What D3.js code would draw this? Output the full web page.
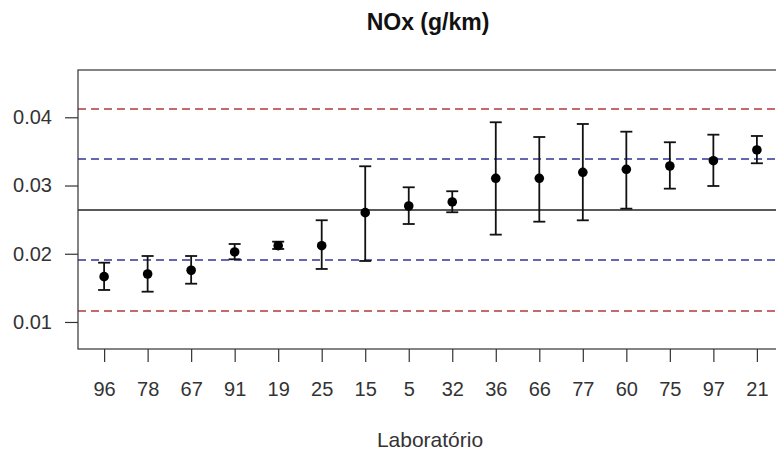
<!DOCTYPE html>
<html>
<head>
<meta charset="utf-8">
<script src="https://cdn.jsdelivr.net/npm/d3@7"></script>
<style>
  body { margin: 0; background: #fff; }
  svg { display: block; font-family: "Liberation Sans", Arial, sans-serif; }
</style>
</head>
<body>
<div id="chart"></div>
<script>
// laboratory codes, in plotted order
const labs = ["96", "78", "67", "91", "19", "25", "15", "5", "32", "36", "66", "77", "60", "75", "97", "21"];
// mean NOx (g/km) per lab
const means = [0.01664, 0.01703, 0.01758, 0.02026, 0.02118, 0.02118, 0.02602, 0.02700,
    0.02759, 0.03106, 0.03106, 0.03194, 0.03238, 0.03286, 0.03364, 0.03521];
// upper / lower error bar ends
const upper = [0.01869, 0.01967, 0.01967, 0.02143, 0.02177, 0.02491, 0.03282, 0.02974,
    0.02916, 0.03927, 0.03711, 0.03902, 0.03789, 0.03634, 0.03745, 0.03726];
const lower = [0.01469, 0.01444, 0.01561, 0.01919, 0.02070, 0.01777, 0.01894, 0.02436,
    0.02608, 0.02280, 0.02470, 0.02490, 0.02661, 0.02954, 0.02993, 0.03326];
// reference lines: assigned value, +/- limits
const refValue = 0.02642;
const innerLimits = [0.01909, 0.03389];
const outerLimits = [0.01161, 0.04122];
const yTicks = [0.01, 0.02, 0.03, 0.04];

const width = 776;
const height = 452;
const plot = { left: 78, right: 783, top: 70, bottom: 349 };

const svg = d3.select("#chart")
    .append("svg")
    .attr("width", width)
    .attr("height", height);

const x = d3.scaleLinear()
    .domain([0.4, labs.length + 0.6])
    .range([plot.left, plot.right]);

const y = d3.scaleLinear()
    .domain([0.00604, 0.04693])
    .range([plot.bottom, plot.top]);

// horizontal reference lines
function hline(v, color, dash, w) {
    svg.append("line")
        .attr("x1", plot.left).attr("x2", plot.right)
        .attr("y1", y(v)).attr("y2", y(v))
        .attr("stroke", color)
        .attr("stroke-width", w)
        .attr("stroke-dasharray", dash);
}
outerLimits.forEach(v => hline(v, "#b23a3a", "8,5", 1.6));
innerLimits.forEach(v => hline(v, "#33339a", "8,5", 1.6));
hline(refValue, "#222", null, 1.5);

// error bars
const capW = 6;
const bars = svg.append("g")
    .attr("stroke", "#111")
    .attr("stroke-width", 1.8);
labs.forEach((lab, i) => {
    const cx = x(i + 1);
    bars.append("line")
        .attr("x1", cx).attr("x2", cx)
        .attr("y1", y(upper[i])).attr("y2", y(lower[i]));
    bars.append("line")
        .attr("x1", cx - capW).attr("x2", cx + capW)
        .attr("y1", y(upper[i])).attr("y2", y(upper[i]));
    bars.append("line")
        .attr("x1", cx - capW).attr("x2", cx + capW)
        .attr("y1", y(lower[i])).attr("y2", y(lower[i]));
});

// points
svg.append("g")
    .selectAll("circle")
    .data(means)
    .enter()
    .append("circle")
    .attr("cx", (d, i) => x(i + 1))
    .attr("cy", d => y(d))
    .attr("r", 4.8)
    .attr("fill", "#000");

// plot box
svg.append("rect")
    .attr("x", plot.left)
    .attr("y", plot.top)
    .attr("width", plot.right - plot.left)
    .attr("height", plot.bottom - plot.top)
    .attr("fill", "none")
    .attr("stroke", "#333")
    .attr("stroke-width", 1.2);

// y axis
const yAxis = svg.append("g")
    .attr("transform", `translate(${plot.left},0)`)
    .call(d3.axisLeft(y).tickValues(yTicks).tickFormat(d3.format(".2f"))
        .tickSize(13).tickPadding(13));
yAxis.select(".domain").remove();
yAxis.selectAll("line").attr("stroke", "#333").attr("stroke-width", 1.2);
yAxis.selectAll("text")
    .style("font-size", "20px")
    .attr("fill", "#333")
    .style("font-family", "'Liberation Sans', Arial, sans-serif");

// x axis
const xAxis = svg.append("g")
    .attr("transform", `translate(0,${plot.bottom})`)
    .call(d3.axisBottom(x).tickValues(d3.range(1, labs.length + 1))
        .tickFormat(d => labs[d - 1]).tickSize(13));
xAxis.select(".domain").remove();
xAxis.selectAll("line").attr("stroke", "#333").attr("stroke-width", 1.2);
xAxis.selectAll("text")
    .attr("y", 47)
    .attr("dy", null)
    .style("font-size", "20px")
    .attr("fill", "#333")
    .style("font-family", "'Liberation Sans', Arial, sans-serif");

// title and axis label
svg.append("text")
    .attr("x", 428)
    .attr("y", 30)
    .attr("text-anchor", "middle")
    .style("font-size", "23px")
    .style("font-weight", "bold")
    .attr("fill", "#111")
    .text("NOx (g/km)");

svg.append("text")
    .attr("x", 430)
    .attr("y", 447)
    .attr("text-anchor", "middle")
    .style("font-size", "21px")
    .attr("fill", "#333")
    .text("Laboratório");
</script>
</body>
</html>
